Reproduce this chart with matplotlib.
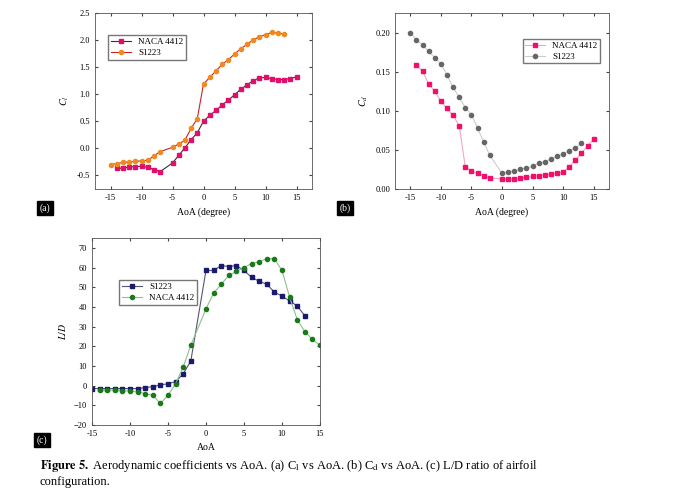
import matplotlib.pyplot as plt

plt.rcParams['font.family'] = ['Liberation Serif', 'DejaVu Serif']
plt.rcParams['mathtext.fontset'] = 'stix'

# (a) lift coefficient
cl_naca_x = [-14, -13, -12, -11, -10, -9, -8, -7, -5, -4, -3, -2, -1, 0, 1, 2, 3, 4, 5, 6, 7, 8, 9, 10, 11, 12, 13, 14, 15]
cl_naca = [-0.36, -0.37, -0.34, -0.34, -0.33, -0.35, -0.39, -0.43, -0.27, -0.13, 0.01, 0.16, 0.29, 0.50, 0.61, 0.70,
           0.80, 0.89, 0.99, 1.09, 1.17, 1.25, 1.30, 1.31, 1.29, 1.27, 1.27, 1.29, 1.32]
cl_s_x = [-15, -14, -13, -12, -11, -10, -9, -8, -7, -5, -4, -3, -2, -1, 0, 1, 2, 3, 4, 5, 6, 7, 8, 9, 10, 11, 12, 13]
cl_s = [-0.30, -0.28, -0.26, -0.25, -0.24, -0.23, -0.22, -0.14, -0.06, 0.02, 0.08, 0.15, 0.37, 0.55, 1.19, 1.31,
        1.43, 1.55, 1.64, 1.74, 1.84, 1.92, 2.00, 2.06, 2.10, 2.14, 2.13, 2.11]

# (b) drag coefficient
cd_naca_x = [-14, -13, -12, -11, -10, -9, -8, -7, -6, -5, -4, -3, -2, 0, 1, 2, 3, 4, 5, 6, 7, 8, 9, 10, 11, 12, 13, 14, 15]
cd_naca = [0.158, 0.151, 0.134, 0.125, 0.112, 0.103, 0.094, 0.081, 0.028, 0.023, 0.020, 0.017, 0.014, 0.013, 0.013,
           0.013, 0.014, 0.015, 0.016, 0.017, 0.018, 0.019, 0.020, 0.022, 0.028, 0.037, 0.046, 0.055, 0.064]
cd_s_x = [-15, -14, -13, -12, -11, -10, -9, -8, -7, -6, -5, -4, -3, -2, 0, 1, 2, 3, 4, 5, 6, 7, 8, 9, 10, 11, 12, 13]
cd_s = [0.200, 0.191, 0.184, 0.176, 0.168, 0.160, 0.146, 0.130, 0.117, 0.104, 0.095, 0.078, 0.060, 0.043, 0.020,
        0.022, 0.023, 0.025, 0.027, 0.029, 0.033, 0.035, 0.038, 0.042, 0.045, 0.049, 0.052, 0.059]

# (c) lift to drag ratio
ld_s_x = [-15, -14, -13, -12, -11, -10, -9, -8, -7, -6, -5, -4, -3, -2, 0, 1, 2, 3, 4, 5, 6, 7, 8, 9, 10, 11, 12, 13]
ld_s = [-1.5, -1.5, -1.5, -1.5, -1.5, -1.5, -1.5, -1, -0.5, 0.3, 1, 2, 6, 12.5, 58.5, 58.5, 61, 60.5, 61, 58.5,
        55, 53, 51.5, 47.5, 45.5, 43, 40.5, 35.5]
ld_naca_x = [-14, -13, -12, -11, -10, -9, -8, -7, -6, -5, -4, -3, -2, 0, 1, 2, 3, 4, 5, 6, 7, 8, 9, 10, 11, 12, 13, 14, 15]
ld_naca = [-2, -2.3, -2.3, -2.5, -2.8, -3.2, -4, -5, -9, -5, 1, 9.5, 20.5, 39, 47, 51.5, 56, 58, 60, 62, 63, 64.5,
           64.5, 58.5, 45, 33.5, 27.5, 23.5, 20.5]

W, H = 692, 500
fig = plt.figure(figsize=(W / 100, H / 100), dpi=100)


def box(l, t, r, b):
    return [l / W, 1 - b / H, (r - l) / W, (b - t) / H]


def style(ax):
    ax.tick_params(labelsize=6, direction='in', length=2, color='#444444', top=True, right=True)
    for s in ax.spines.values():
        s.set_linewidth(0.6)
        s.set_color('#555555')


ax1 = fig.add_axes(box(95, 13, 312, 189))
ax1.plot(cl_naca_x, cl_naca, '-s', color='#333333', mfc='#e0106a', mec='#e0106a', ms=3, lw=0.8, label='NACA 4412')
ax1.plot(cl_s_x, cl_s, '-o', color='#cc2222', mfc='#f08a20', mec='#f08a20', ms=3, lw=0.8, label='S1223')
ax1.set_xlim(-17.5, 17.5)
ax1.set_ylim(-0.75, 2.5)
ax1.set_xticks([-15, -10, -5, 0, 5, 10, 15])
ax1.set_yticks([-0.5, 0, 0.5, 1, 1.5, 2, 2.5])
ax1.set_yticklabels(['-0.5', '0.0', '0.5', '1.0', '1.5', '2.0', '2.5'])
ax1.set_xticklabels(['-15', '-10', '-5', '0', '5', '10', '15'])
ax1.set_xlabel('AoA (degree)', fontsize=7)
ax1.set_ylabel('$C_l$', fontsize=7)
ax1.legend(loc='upper left', bbox_to_anchor=(0.04, 0.9), fontsize=6.5, fancybox=False, edgecolor='#555555',
           handlelength=2.2, borderpad=0.3, labelspacing=0.3)
style(ax1)

ax2 = fig.add_axes(box(395, 13, 609, 189))
ax2.plot(cd_naca_x, cd_naca, '-s', color='#f4a6c4', mfc='#f0106a', mec='#f0106a', ms=3, lw=0.8, label='NACA 4412')
ax2.plot(cd_s_x, cd_s, '-o', color='#cccccc', mfc='#666666', mec='#666666', ms=3, lw=0.8, label='S1223')
ax2.set_xlim(-17.5, 17.5)
ax2.set_ylim(0, 0.225)
ax2.set_xticks([-15, -10, -5, 0, 5, 10, 15])
ax2.set_xticklabels(['-15', '-10', '-5', '0', '5', '10', '15'])
ax2.set_yticks([0, 0.05, 0.1, 0.15, 0.2])
ax2.set_yticklabels(['0.00', '0.05', '0.10', '0.15', '0.20'])
ax2.set_xlabel('AoA (degree)', fontsize=7)
ax2.set_ylabel('$C_d$', fontsize=7)
ax2.legend(loc='upper right', bbox_to_anchor=(0.98, 0.88), fontsize=6.5, fancybox=False, edgecolor='#555555',
           handlelength=2.2, borderpad=0.3, labelspacing=0.3)
style(ax2)

ax3 = fig.add_axes(box(92, 238, 320, 425))
ax3.plot(ld_s_x, ld_s, '-s', color='#555577', mfc='#1a1a6e', mec='#1a1a6e', ms=3, lw=0.8, label='S1223')
ax3.plot(ld_naca_x, ld_naca, '-o', color='#8fbf8f', mfc='#1a7a1a', mec='#1a7a1a', ms=3, lw=0.8, label='NACA 4412')
ax3.set_xlim(-15, 15)
ax3.set_ylim(-20, 75)
ax3.set_xticks([-15, -10, -5, 0, 5, 10, 15])
ax3.set_xticklabels(['-15', '-10', '-5', '0', '5', '10', '15'])
ax3.set_yticks(range(-20, 71, 10))
ax3.set_xlabel('AoA', fontsize=7)
ax3.set_ylabel('$L/D$', fontsize=7)
ax3.legend(loc='upper left', bbox_to_anchor=(0.1, 0.8), fontsize=6.5, fancybox=False, edgecolor='#555555',
           handlelength=2.2, borderpad=0.3, labelspacing=0.3)
style(ax3)

for lbl, x, y in [('(a)', 45, 208), ('(b)', 345, 208), ('(c)', 42, 440)]:
    fig.text(x / W, 1 - y / H, lbl, color='white', fontsize=7, ha='center', va='center',
             bbox=dict(boxstyle='square,pad=0.25', fc='black', ec='black'))

fig.text(40 / W, 1 - 466 / H, r'$\bf{Figure\ 5.}$ Aerodynamic coefficients vs AoA. (a) C$_\mathrm{l}$ vs AoA. '
         r'(b) C$_\mathrm{d}$ vs AoA. (c) L/D ratio of airfoil', fontsize=9, va='center')
fig.text(40 / W, 1 - 482 / H, 'configuration.', fontsize=9, va='center')

fig.savefig('out.png', dpi=100)
